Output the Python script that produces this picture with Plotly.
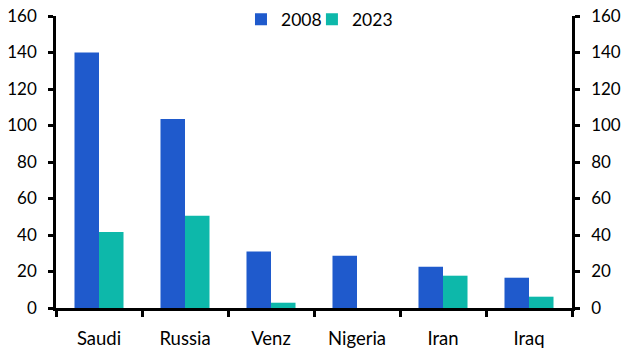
import plotly.graph_objects as go

categories = ["Saudi", "Russia", "Venz", "Nigeria", "Iran", "Iraq"]
values_2008 = [140, 103.5, 31, 28.6, 22.6, 16.6]
values_2023 = [41.7, 50.5, 2.9, 0, 17.7, 6.2]
y_ticks = [0, 20, 40, 60, 80, 100, 120, 140, 160]

BLUE = "#1F5ACC"
TEAL = "#0DB8AA"
FAMILY = "Lato, 'Noto Sans', sans-serif"
FONT = dict(family=FAMILY, size=17, color="#000000")
XFONT = dict(family=FAMILY, size=18.5, color="#000000")
LFONT = dict(family=FAMILY, size=17.5, color="#000000")

fig = go.Figure()
fig.add_trace(go.Bar(name="2008", x=categories, y=values_2008, marker_color=BLUE,
                     marker_line_width=0, legend="legend"))
fig.add_trace(go.Bar(name="2023", x=categories, y=values_2023, marker_color=TEAL,
                     marker_line_width=0, legend="legend2"))
# empty helper trace so that the right-hand axis is drawn
fig.add_trace(go.Scatter(x=[], y=[], yaxis="y2", showlegend=False, hoverinfo="skip"))

axis_common = dict(showline=True, linecolor="black", linewidth=2.5,
                   ticks="outside", tickcolor="black", tickwidth=2.5,
                   showgrid=False, zeroline=False, automargin=False)

legend_common = dict(orientation="h", y=1.05, yanchor="top", xanchor="left",
                     font=LFONT, bgcolor="rgba(0,0,0,0)", itemwidth=30)

fig.update_layout(
    width=636, height=363,
    margin=dict(l=56, r=64, t=16, b=55, autoexpand=False),
    paper_bgcolor="white", plot_bgcolor="white",
    font=FONT,
    barmode="group", bargap=0.43, bargroupgap=0,
    showlegend=True,
    legend=dict(**legend_common, x=0.3585),
    legend2=dict(**legend_common, x=0.496),
    xaxis=dict(**axis_common, ticklen=6, tickson="boundaries", tickfont=XFONT,
               ticklabelstandoff=12),
    yaxis=dict(**axis_common, range=[0, 160], tickvals=y_ticks, ticklen=5, tickfont=FONT,
               ticklabelstandoff=8),
    yaxis2=dict(**axis_common, range=[0, 160], tickvals=y_ticks, ticklen=5, tickfont=FONT,
                ticklabelstandoff=8, overlaying="y", side="right", anchor="x"),
)

fig.write_html("out.html", config={"displayModeBar": False},
               post_script="document.body.style.margin='0px';")
